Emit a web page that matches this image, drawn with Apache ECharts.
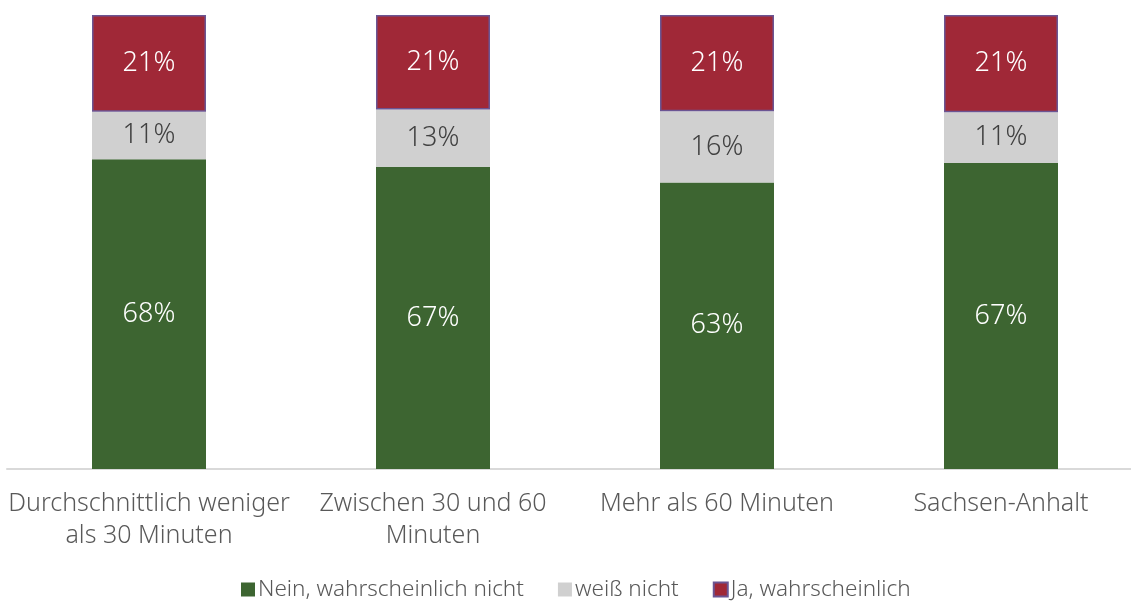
<!DOCTYPE html>
<html>
<head>
<meta charset="utf-8">
<script src="https://cdn.jsdelivr.net/npm/echarts@6/dist/echarts.min.js"></script>
<style>
  html, body { margin: 0; padding: 0; background: #fff; overflow: hidden; }
  #main { width: 1143px; height: 601px; }
</style>
</head>
<body>
<div id="main"></div>
<script>
// Kategorien und Werte (Anteile in %)
var categories = [
    'Durchschnittlich weniger\nals 30 Minuten',
    'Zwischen 30 und 60\nMinuten',
    'Mehr als 60 Minuten',
    'Sachsen-Anhalt'
];
var seriesNames = ['Nein, wahrscheinlich nicht', 'weiß nicht', 'Ja, wahrscheinlich'];
var nein = [68.2, 66.6, 63.1, 67.4];
var weissNicht = [10.5, 12.6, 15.7, 11.2];
var ja = [21.3, 20.8, 21.2, 21.4];

var myChart = echarts.init(document.getElementById('main'));

var fontFam = '"Noto Sans", sans-serif';

function pct(p) {
    return Math.round(p.value) + '%';
}

var option = {
    animation: false,
    grid: {
        left: 7,
        right: 0,
        top: 15,
        bottom: 132
    },
    legend: {
        top: 573,
        left: 236,
        icon: 'rect',
        itemWidth: 14,
        itemHeight: 14,
        itemGap: 34,
        textStyle: {
            fontFamily: fontFam,
            fontWeight: 300,
            fontSize: 22.5,
            color: '#595959',
            padding: [0, 0, 0, -2]
        },
        data: seriesNames
    },
    xAxis: {
        type: 'category',
        data: categories,
        axisLine: { lineStyle: { color: '#d9d9d9', width: 2 } },
        axisTick: { show: false },
        axisLabel: {
            fontFamily: fontFam,
            fontWeight: 300,
            fontSize: 25,
            color: '#595959',
            lineHeight: 32,
            margin: 19,
            interval: 0
        }
    },
    yAxis: {
        type: 'value',
        min: 0,
        max: 100,
        show: false,
        splitLine: { show: false }
    },
    series: [
        {
            name: seriesNames[0],
            type: 'bar',
            stack: 'a',
            barWidth: 114,
            data: nein,
            itemStyle: { color: '#3d6531' },
            label: {
                show: true,
                formatter: pct,
                color: '#ffffff',
                fontFamily: fontFam,
                fontWeight: 300,
                fontSize: 27
            }
        },
        {
            name: seriesNames[1],
            type: 'bar',
            stack: 'a',
            barWidth: 114,
            data: weissNicht,
            itemStyle: { color: '#d0d0d0' },
            label: {
                show: true,
                formatter: pct,
                color: '#404040',
                fontFamily: fontFam,
                fontWeight: 300,
                fontSize: 27
            }
        },
        {
            name: seriesNames[2],
            type: 'bar',
            stack: 'a',
            barWidth: 114,
            data: ja,
            itemStyle: {
                color: '#a02837',
                borderColor: '#6b5593',
                borderWidth: 1.5
            },
            label: {
                show: true,
                formatter: pct,
                color: '#ffffff',
                fontFamily: fontFam,
                fontWeight: 300,
                fontSize: 27
            }
        }
    ]
};

myChart.setOption(option);
</script>
</body>
</html>
